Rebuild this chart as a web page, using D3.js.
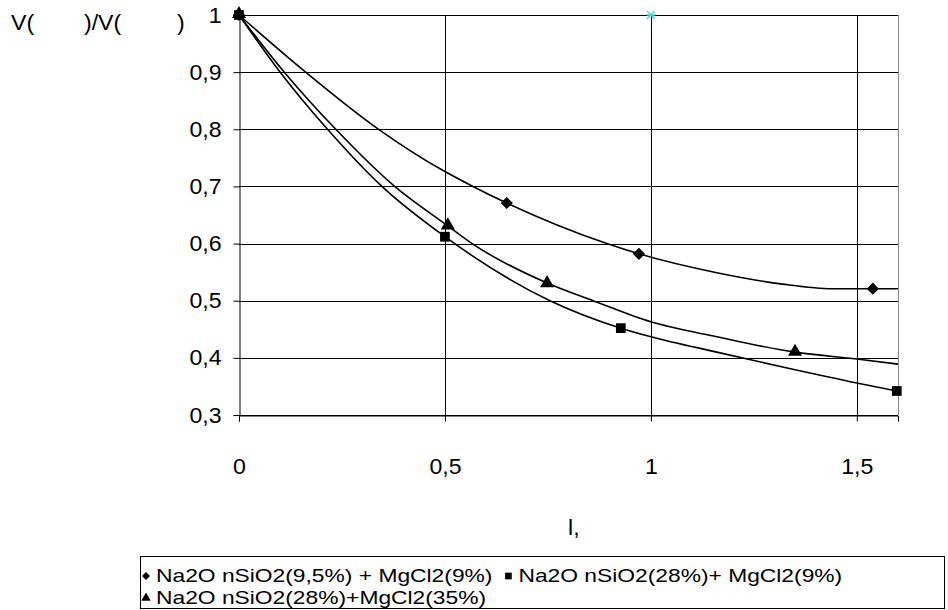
<!DOCTYPE html>
<html>
<head>
<meta charset="utf-8">
<script src="https://cdn.jsdelivr.net/npm/d3@7"></script>
<style>
  body { margin: 0; background: #fff; }
  text { font-family: "Liberation Sans", Arial, sans-serif; fill: #000; }
</style>
</head>
<body>
<div id="chart"></div>
<script>
// tick values and labels
const xTicks = [0, 0.5, 1, 1.5];
const xTickLabels = ["0", "0,5", "1", "1,5"];
const yTicks = [0.3, 0.4, 0.5, 0.6, 0.7, 0.8, 0.9, 1];
const yTickLabels = ["0,3", "0,4", "0,5", "0,6", "0,7", "0,8", "0,9", "1"];

// measured points (markers)
const diamondPts = [[0, 1], [0.65, 0.671], [0.971, 0.582], [1.539, 0.521]];
const squarePts = [[0, 1], [0.5, 0.612], [0.927, 0.452], [1.597, 0.342]];
const trianglePts = [[0, 1], [0.507, 0.63], [0.748, 0.529], [1.35, 0.409]];
const starPts = [[1, 1]];

// smooth curves
const diamondCurve = [[0, 1], [0.162, 0.9], [0.339, 0.8], [0.5, 0.726], [0.568, 0.7], [0.65, 0.671],
  [0.893, 0.6], [0.971, 0.582], [1.16, 0.549], [1.32, 0.529], [1.44, 0.521], [1.54, 0.521], [1.6, 0.521]];
const triangleCurve = [[0, 1], [0.11, 0.9], [0.235, 0.8], [0.378, 0.7], [0.507, 0.631], [0.566, 0.6],
  [0.748, 0.531], [0.86, 0.5], [1.0, 0.463], [1.16, 0.437], [1.35, 0.41], [1.5, 0.398], [1.6, 0.389]];
const squareCurve = [[0, 1], [0.10, 0.9], [0.215, 0.8], [0.347, 0.7], [0.5, 0.612], [0.755, 0.5],
  [0.927, 0.452], [1.0, 0.437], [1.16, 0.41], [1.32, 0.384], [1.5, 0.356], [1.597, 0.342]];

const legendNames = ["Na2O nSiO2(9,5%) + MgCl2(9%)", "Na2O nSiO2(28%)+ MgCl2(9%)", "Na2O nSiO2(28%)+MgCl2(35%)"];

const W = 948, H = 610;
const plot = {left: 239, right: 898, top: 15, bottom: 415};
const FS = 22;       // axis font size
const LFS = 19;      // legend font size

// stretch a text sideways by k
function widen(sel, k) {
  sel.each(function() {
    const w = this.getComputedTextLength();
    d3.select(this).attr("textLength", w * k).attr("lengthAdjust", "spacingAndGlyphs");
  });
}

const svg = d3.select("#chart").append("svg")
  .attr("width", W).attr("height", H);

const x = d3.scaleLinear().domain([0, 1.6]).range([plot.left, plot.right]);
const y = d3.scaleLinear().domain([0.3, 1]).range([plot.bottom, plot.top]);

// grid lines
svg.append("g").selectAll("line").data(yTicks).join("line")
  .attr("x1", plot.left).attr("x2", plot.right)
  .attr("y1", d => Math.round(y(d)) + 0.5).attr("y2", d => Math.round(y(d)) + 0.5)
  .attr("stroke", "#000").attr("stroke-width", 1);
svg.append("g").selectAll("line").data(xTicks.filter(d => d > 0)).join("line")
  .attr("x1", d => Math.round(x(d)) + 0.5).attr("x2", d => Math.round(x(d)) + 0.5)
  .attr("y1", plot.top).attr("y2", plot.bottom)
  .attr("stroke", "#000").attr("stroke-width", 1);
// right border
svg.append("line")
  .attr("x1", plot.right + 0.5).attr("x2", plot.right + 0.5)
  .attr("y1", plot.top).attr("y2", plot.bottom)
  .attr("stroke", "#888").attr("stroke-width", 1);

// axes
const yAxis = svg.append("g")
  .attr("transform", `translate(${plot.left + 0.5},0)`)
  .call(d3.axisLeft(y).tickValues(yTicks).tickSize(6).tickPadding(12)
    .tickFormat((d, i) => yTickLabels[i]));
const xAxis = svg.append("g")
  .attr("transform", `translate(0,${Math.round(y(0.3)) + 0.5})`)
  .call(d3.axisBottom(x).tickValues(xTicks).tickSize(6).tickPadding(37)
    .tickFormat((d, i) => xTickLabels[i]));
[xAxis, yAxis].forEach(a => {
  a.attr("font-size", FS).attr("font-family", "Liberation Sans, Arial, sans-serif");
  a.select(".domain").attr("stroke", "#000");
  a.selectAll(".tick line").attr("stroke", "#000");
  a.selectAll("text").attr("fill", "#000").call(widen, 1.05);
});

// curves
const line = d3.line().x(d => x(d[0])).y(d => y(d[1])).curve(d3.curveMonotoneX);
[diamondCurve, triangleCurve, squareCurve].forEach(c => {
  svg.append("path").datum(c)
    .attr("fill", "none").attr("stroke", "#000").attr("stroke-width", 1.6)
    .attr("d", line);
});

// markers
const sym = {
  diamond: d3.symbol().type(d3.symbolDiamond2).size(95),
  square: d3.symbol().type(d3.symbolSquare).size(95),
  triangle: d3.symbol().type(d3.symbolTriangle).size(85)
};
svg.append("g").selectAll("path").data(trianglePts).join("path")
  .attr("transform", d => `translate(${x(d[0])},${y(d[1]) - 1})`)
  .attr("d", sym.triangle()).attr("fill", "#000");
svg.append("g").selectAll("path").data(diamondPts).join("path")
  .attr("transform", d => `translate(${x(d[0])},${y(d[1])})`)
  .attr("d", sym.diamond()).attr("fill", "#000");
svg.append("g").selectAll("path").data(squarePts).join("path")
  .attr("transform", d => `translate(${x(d[0])},${y(d[1])})`)
  .attr("d", sym.square()).attr("fill", "#000");
svg.append("g").selectAll("path").data(starPts).join("path")
  .attr("transform", d => `translate(${x(d[0])},${y(d[1])})`)
  .attr("d", "M-4,-4L4,4M-4,4L4,-4M-4,0L4,0")
  .attr("stroke", "#33e0e0").attr("stroke-width", 1.3).attr("fill", "none");

// axis titles
const ylab = svg.append("g").attr("font-size", FS);
ylab.append("text").attr("x", 11).attr("y", 30).text("V(");
ylab.append("text").attr("x", 84).attr("y", 30).text(")/V(");
ylab.append("text").attr("x", 177).attr("y", 30).text(")");
ylab.selectAll("text").call(widen, 1.05);
svg.append("text").attr("x", 568).attr("y", 535).attr("font-size", FS)
  .text("l,").call(widen, 1.05);

// legend
const lg = svg.append("g");
lg.append("rect").attr("x", 140.5).attr("y", 556.5).attr("width", 804).attr("height", 52)
  .attr("fill", "none").attr("stroke", "#000");
const legendSym = {
  diamond: d3.symbol().type(d3.symbolDiamond2).size(40),
  square: d3.symbol().type(d3.symbolSquare).size(45),
  triangle: d3.symbol().type(d3.symbolTriangle).size(38)
};
function legendItem(name, s, lx, baseline) {
  lg.append("path").attr("transform", `translate(${lx},${baseline - 6})`)
    .attr("d", legendSym[s]()).attr("fill", "#000");
  const t = lg.append("text").attr("x", lx + 10).attr("y", baseline)
    .attr("font-size", LFS).text(name).call(widen, 1.2);
  return lx + 10 + (+t.attr("textLength"));
}
const end1 = legendItem(legendNames[0], "diamond", 146, 582);
legendItem(legendNames[1], "square", end1 + 16, 582);
legendItem(legendNames[2], "triangle", 146, 604);
</script>
</body>
</html>
